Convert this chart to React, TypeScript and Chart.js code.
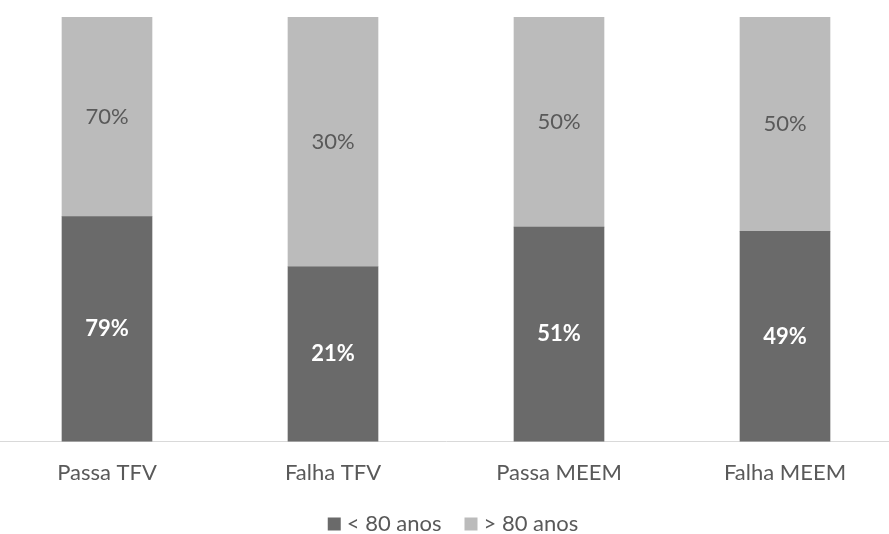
import React, { useEffect, useRef } from "react";
import { Chart, registerables } from "chart.js";

Chart.register(...registerables);

const categories = ["Passa TFV", "Falha TFV", "Passa MEEM", "Falha MEEM"];
const under80 = [79, 21, 51, 49];
const over80 = [70, 30, 50, 50];
const seriesNames = ["< 80 anos", "> 80 anos"];

const DARK = "#6a6a6a";
const LIGHT = "#bbbbbb";
const TEXT = "#595959";
const FONT = "Lato, 'Open Sans', 'Liberation Sans', sans-serif";
const FS = 22;

const totals = categories.map((_, i) => under80[i] + over80[i]);
const under80Share = under80.map((v, i) => v / totals[i]);
const over80Share = over80.map((v, i) => v / totals[i]);
const rawValues = [under80, over80];

const labelPlugin = {
  id: "segLabels",
  afterDatasetsDraw(chart: any) {
    const ctx = chart.ctx;
    chart.data.datasets.forEach((ds: any, di: number) => {
      const meta = chart.getDatasetMeta(di);
      meta.data.forEach((el: any, i: number) => {
        const y = (el.y + el.base) / 2;
        ctx.save();
        ctx.textAlign = "center";
        ctx.textBaseline = "middle";
        if (di === 0) {
          ctx.fillStyle = "#ffffff";
          ctx.font = `bold ${FS}px ${FONT}`;
        } else {
          ctx.fillStyle = TEXT;
          ctx.font = `${FS}px ${FONT}`;
        }
        ctx.fillText(rawValues[di][i] + "%", el.x, y);
        ctx.restore();
      });
    });
  },
};

const legendPlugin = {
  id: "customLegend",
  afterDraw(chart: any) {
    const ctx = chart.ctx;
    const box = 13;
    const gapBoxText = 6;
    const gapItems = 23;
    ctx.save();
    ctx.font = `${FS}px ${FONT}`;
    const items = chart.data.datasets.map((ds: any) => ({
      text: ds.label as string,
      color: ds.backgroundColor as string,
      w: ctx.measureText(ds.label).width,
    }));
    const total =
      items.reduce((s: number, it: any) => s + box + gapBoxText + it.w, 0) +
      gapItems * (items.length - 1);
    const cx = chart.width / 2 + 7;
    const cy = chart.height - 10;
    let x = cx - total / 2;
    ctx.textBaseline = "middle";
    ctx.textAlign = "left";
    items.forEach((it: any) => {
      ctx.fillStyle = it.color;
      ctx.fillRect(x, cy - box / 2, box, box);
      x += box + gapBoxText;
      ctx.fillStyle = TEXT;
      ctx.fillText(it.text, x, cy);
      x += it.w + gapItems;
    });
    ctx.restore();
  },
};

export default function App() {
  const ref = useRef<HTMLCanvasElement>(null);
  useEffect(() => {
    document.body.style.margin = "0";
    document.body.style.overflow = "hidden";
    const chart = new Chart(ref.current!, {
      type: "bar",
      data: {
        labels: categories,
        datasets: [
          { label: seriesNames[0], data: under80Share, backgroundColor: DARK, barThickness: 90 },
          { label: seriesNames[1], data: over80Share, backgroundColor: LIGHT, barThickness: 90 },
        ],
      },
      options: {
        animation: false,
        responsive: true,
        maintainAspectRatio: false,
        layout: { padding: { top: 17, bottom: 30, left: 0, right: 0 } },
        scales: {
          x: {
            stacked: true,
            grid: { display: false, drawTicks: false },
            border: { display: true, color: "#d9d9d9", width: 1 },
            ticks: { color: TEXT, font: { family: FONT, size: FS }, padding: 18 },
          },
          y: { stacked: true, display: false, min: 0, max: 1 },
        },
        plugins: {
          tooltip: { enabled: false },
          legend: { display: false },
        },
      },
      plugins: [labelPlugin, legendPlugin],
    });
    return () => chart.destroy();
  }, []);
  return (
    <div style={{ position: "fixed", left: -6, top: 0, width: 904, height: 534 }}>
      <canvas ref={ref} />
    </div>
  );
}
